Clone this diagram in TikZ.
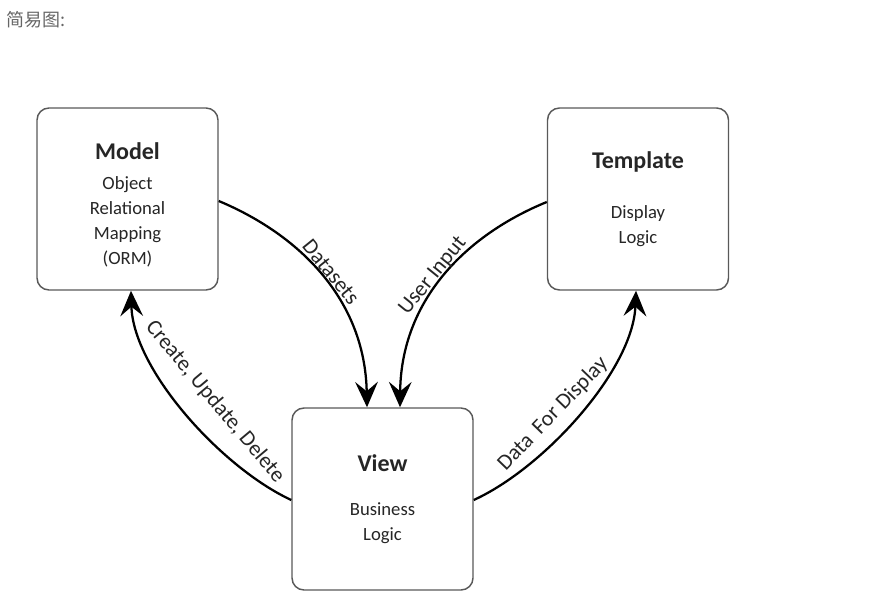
\documentclass[tikz,border=0pt]{standalone}
\usepackage{fontspec}
\setmainfont{Carlito}
\newfontfamily\cjkfont{Noto Sans CJK SC}
\usetikzlibrary{arrows.meta}

\begin{document}
\begin{tikzpicture}[
    x=0.75pt, y=-0.75pt,
    comp_box/.style={draw=black!65, line width=1.1pt, fill=white, rectangle, rounded corners=9pt,
        minimum width=135.75pt, minimum height=136.5pt, align=center, text=black!85,
        font=\fontsize{14}{18.75}\selectfont},
    flow/.style={line width=1.7pt, -{Stealth[length=19pt, width=17pt, inset=7pt]}},
    flow_lbl/.style={font=\fontsize{16.5}{18}\selectfont, text=black!85, inner sep=1pt}
]
\useasboundingbox (0,0) rectangle (888,609);

\node[anchor=west, text=black!60, font=\cjkfont\fontsize{13.5}{15}\selectfont, inner sep=0pt] (caption) at (6,20) {简易图:};

% the three parts
\node[comp_box] (model) at (127.5,199) {
    {\rule{0pt}{21pt}\fontsize{18}{20}\selectfont\bfseries Model}\\[4pt]
    Object\\
    Relational\\
    Mapping\\
    (ORM)
};

\node[comp_box] (template) at (638,199) {
    {\fontsize{18}{20}\selectfont\bfseries Template}\\[19pt]
    Display\\
    Logic
};

\node[comp_box] (view) at (382.5,499) {
    {\fontsize{18}{20}\selectfont\bfseries View}\\[14pt]
    Business\\
    Logic
};

% connectors
\draw[flow] (model.east |- 0,201) .. controls (300,235) and (365,300) .. (view.north -| 367,0);
\draw[flow] (template.west |- 0,202) .. controls (466,235) and (401,300) .. (view.north -| 400,0);
\draw[flow] (view.west |- 0,500) .. controls (222,468) and (133,370) .. (model.south -| 131,0);
\draw[flow] (view.east |- 0,500) .. controls (544,468) and (633,370) .. (template.south -| 636,0);

% labels
\node[flow_lbl, rotate=-51] (lbl_data) at (331,272) {Datasets};
\node[flow_lbl, rotate=51] (lbl_input) at (433,276) {User Input};
\node[flow_lbl, rotate=-50] (lbl_cud) at (215,402) {Create, Update, Delete};
\node[flow_lbl, rotate=46] (lbl_disp) at (553,414) {Data\, For Display};

\end{tikzpicture}
\end{document}
